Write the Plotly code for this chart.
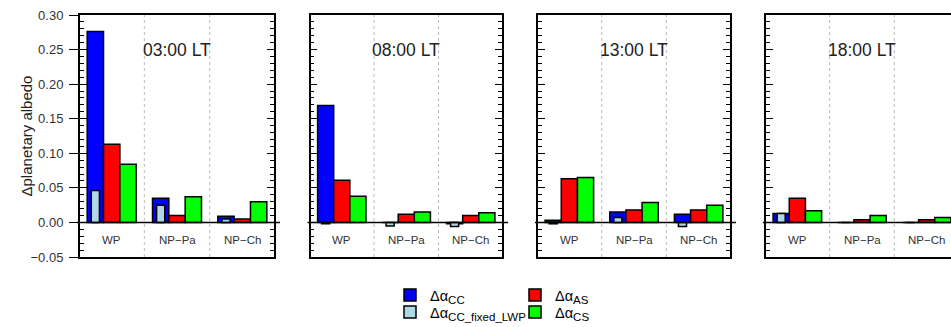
import plotly.graph_objects as go

# ---------------- data ----------------
times = ["03:00 LT", "08:00 LT", "13:00 LT", "18:00 LT"]
categories = ["WP", "NP\u2212Pa", "NP\u2212Ch"]

cc = [[0.276, 0.035, 0.009],
      [0.169, 0.000, -0.002],
      [0.003, 0.015, 0.012],
      [0.013, 0.000, 0.000]]
cc_fixed_lwp = [[0.046, 0.025, 0.005],
                [-0.002, -0.005, -0.006],
                [-0.002, 0.007, -0.006],
                [0.013, 0.000, 0.000]]
as_vals = [[0.113, 0.010, 0.005],
           [0.061, 0.012, 0.010],
           [0.063, 0.018, 0.018],
           [0.035, 0.004, 0.004]]
cs_vals = [[0.084, 0.037, 0.030],
           [0.038, 0.015, 0.014],
           [0.065, 0.029, 0.025],
           [0.017, 0.010, 0.007]]

series_labels = ["CC", "CC_fixed_LWP", "AS", "CS"]
y_title = "\u0394planetary albedo"

# ---------------- styling / layout ----------------
W, H = 951, 327
M_T, M_B = 15, 70
PLOT_H = H - M_T - M_B
Y_RANGE = [-0.05, 0.30]
X_FULL = [-0.44, 11.44]
panel_px = [(80, 274), (310.5, 502), (538, 730), (766, 958)]
FONT = "Liberation Sans, Arial, sans-serif"
TXT = "#333333"
colors = ["#0000FF", "#ADD8E6", "#FF0000", "#00FF00"]
LW = 1.5
# legend slot for each series: (legend id, left px, row centre px)
legend_slots = [("legend", 390, 295), ("legend3", 390, 312),
                ("legend2", 515, 295), ("legend4", 515, 312)]


def legend_name(sub):
    return ("\u0394\u03b1<sub><span style=\"font-size:11.5px\">" + sub +
            "</span></sub>")


series_names = [legend_name(s) for s in series_labels]

fig = go.Figure()


def ax_id(i):
    return "" if i == 0 else str(i + 1)


for p, t in enumerate(times):
    sid = ax_id(p)
    xa, ya = "x" + sid, "y" + sid
    bases = [4 * g for g in range(len(categories))]
    show = p == 0
    specs = [
        (cc[p], 0.5, 1.0),
        (cc_fixed_lwp[p], 0.5, 0.5),
        (as_vals[p], 1.5, 1.0),
        (cs_vals[p], 2.5, 1.0),
    ]
    for k, (vals, off, wdt) in enumerate(specs):
        fig.add_trace(go.Bar(
            x=[b + off for b in bases], y=vals, width=wdt,
            marker=dict(color=colors[k], line=dict(color="black", width=LW)),
            name=series_names[k], showlegend=show, legend=legend_slots[k][0],
            legendgroup=series_labels[k],
            xaxis=xa, yaxis=ya, hoverinfo="skip"))

    x0px, x1px = panel_px[p]
    if x1px > W:
        frac = (W - x0px) / (x1px - x0px)
        xr = [X_FULL[0], X_FULL[0] + (X_FULL[1] - X_FULL[0]) * frac]
        dom = [x0px / W, 1.0]
        ymirror = False
    else:
        xr = X_FULL
        dom = [x0px / W, x1px / W]
        ymirror = "ticks"

    fig.layout["xaxis" + sid] = dict(
        domain=dom, range=xr, anchor=ya, showline=True, linecolor="black",
        linewidth=LW, mirror=True, ticks="", showticklabels=False,
        showgrid=False, zeroline=False, fixedrange=True)
    fig.layout["yaxis" + sid] = dict(
        domain=[0, 1], range=Y_RANGE, anchor=xa, showline=True, linecolor="black",
        linewidth=LW, mirror=ymirror, ticks="inside", ticklen=7, tickwidth=1.3,
        tickcolor="black", tick0=0, dtick=0.05, showticklabels=False,
        minor=dict(ticks="inside", ticklen=4, tickwidth=1.3, tickcolor="black",
                   dtick=0.01, showgrid=False),
        showgrid=False, zeroline=False, fixedrange=True)

    # dotted separators between groups
    for g in range(1, len(categories)):
        fig.add_shape(type="line", xref=xa, yref=ya + " domain",
                      x0=4 * g - 0.5, x1=4 * g - 0.5, y0=0, y1=1,
                      line=dict(color="#BBBBBB", width=1, dash="dot"))
    # zero line extending slightly beyond panel box
    zf = (0 - Y_RANGE[0]) / (Y_RANGE[1] - Y_RANGE[0])
    fig.add_shape(type="line", xref="paper", yref="paper",
                  x0=(x0px - 3) / W, x1=min(x1px + 6, W) / W, y0=zf, y1=zf,
                  line=dict(color="black", width=LW))
    # category labels
    for g, c in enumerate(categories):
        fig.add_annotation(x=4 * g + 1.5, y=-0.026, xref=xa, yref=ya, text=c,
                           showarrow=False, font=dict(family=FONT, size=11.5, color=TXT))
    # time label
    fig.add_annotation(x=5.5, y=0.25, xref=xa, yref=ya, text=t, showarrow=False,
                       font=dict(family=FONT, size=17.5, color="#222222"))

# outer labelled axis for first panel
fig.add_trace(go.Scatter(x=[None], y=[None], xaxis="x", yaxis="y5",
                         showlegend=False, hoverinfo="skip"))
fig.layout["yaxis5"] = dict(
    overlaying="y", anchor="x", side="left", range=Y_RANGE, tick0=0, dtick=0.05,
    tickformat=".2f", ticks="outside", ticklen=10, tickwidth=1.3, tickcolor="black",
    showline=False, showgrid=False, zeroline=False, ticklabelstandoff=3,
    tickfont=dict(family=FONT, size=13, color=TXT), fixedrange=True)

fig.add_annotation(x=15 / W, y=0.5, xref="paper", yref="paper", text=y_title,
                   textangle=-90, showarrow=False,
                   font=dict(family=FONT, size=15, color="#222222"))

leg_common = dict(orientation="v", xanchor="left", yanchor="middle",
                  font=dict(family=FONT, size=14.5, color="black"),
                  bgcolor="rgba(0,0,0,0)", borderwidth=0, itemwidth=30,
                  tracegroupgap=0)
legends = {}
for lid, lx, ly in legend_slots:
    legends[lid] = dict(x=lx / W, y=(257 - ly) / PLOT_H, **leg_common)

fig.update_layout(
    width=W, height=H,
    margin=dict(l=0, r=0, t=M_T, b=M_B, autoexpand=False),
    paper_bgcolor="white", plot_bgcolor="white", barmode="overlay",
    font=dict(family=FONT),
    **legends,
)

fig.write_html("out.html")
